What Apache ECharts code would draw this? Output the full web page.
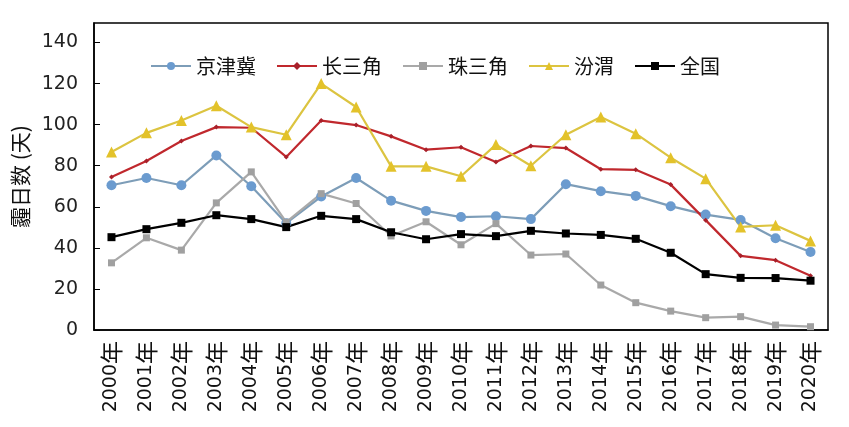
<!DOCTYPE html>
<html>
<head>
<meta charset="utf-8">
<script src="https://cdn.jsdelivr.net/npm/echarts@6/dist/echarts.min.js"></script>
<style>html,body{margin:0;padding:0;background:#fff;}#c{width:849px;height:427px;}</style>
</head>
<body>
<div id="c"></div>
<script>
const categories = ['2000年','2001年','2002年','2003年','2004年','2005年','2006年','2007年','2008年','2009年','2010年','2011年','2012年','2013年','2014年','2015年','2016年','2017年','2018年','2019年','2020年'];
const jingjinji = [70.5, 74, 70.5, 85, 70, 52, 65, 74, 63, 58, 55, 55.4, 54, 71, 67.6, 65.3, 60.3, 56.2, 53.6, 44.7, 38];
const changsanjiao = [74.5, 82.3, 92, 98.8, 98.5, 84.3, 102, 99.8, 94.3, 87.8, 89, 81.8, 89.6, 88.6, 78.3, 78, 70.8, 53.5, 36.1, 34, 26.4];
const zhusanjiao = [32.7, 44.9, 38.9, 61.9, 77, 52.5, 66.4, 61.6, 45.8, 52.7, 41.5, 51.8, 36.5, 37, 21.9, 13.3, 9.2, 6, 6.5, 2.4, 1.6];
const fenwei = [86.7, 96, 102, 109.2, 98.8, 95.1, 120, 108.6, 79.7, 79.7, 74.9, 90.3, 80, 95.1, 103.7, 95.6, 83.9, 73.7, 50.2, 51, 43.4];
const quanguo = [45.2, 49.1, 52.2, 55.9, 54, 50.1, 55.6, 54, 47.6, 44.2, 46.7, 45.7, 48.3, 47, 46.3, 44.4, 37.6, 27.2, 25.4, 25.3, 24];
const yAxisName = '霾日数 (天)';

const font = '"DejaVu Sans", "Noto Sans CJK SC", sans-serif';
const cjk = '"Noto Sans CJK SC", sans-serif';

const chart = echarts.init(document.getElementById('c'), null, {renderer: 'canvas'});
function mk(name, data, lineColor, markColor, symbol, size, width) {
  return {
    name: name, type: 'line', data: data, symbol: symbol, symbolSize: size,
    lineStyle: {color: lineColor, width: width},
    itemStyle: {color: markColor},
    emphasis: {disabled: true}, animation: false
  };
}
chart.setOption({
  backgroundColor: '#fff',
  animation: false,
  grid: {left: 94, right: 21, top: 23, bottom: 97, show: true, borderColor: '#000', borderWidth: 1.5, backgroundColor: 'transparent'},
  legend: {
    left: 145, top: 51, itemWidth: 40, itemHeight: 10, itemGap: 20,
    textStyle: {fontSize: 20, fontFamily: cjk, color: '#111'},
    data: ['京津冀','长三角','珠三角','汾渭','全国']
  },
  xAxis: {
    type: 'category', data: categories, boundaryGap: true,
    axisLine: {lineStyle: {color: '#000', width: 1.5}},
    axisTick: {inside: true, length: 6, lineStyle: {color: '#000'}},
    axisLabel: {
      rotate: 90, margin: 11, interval: 0, color: '#111',
      formatter: function (v) { return '{d|' + v.slice(0, -1) + '}{y|' + v.slice(-1) + '}'; },
      rich: {d: {fontSize: 19, fontFamily: font, color: '#111'}, y: {fontSize: 23, fontFamily: cjk, color: '#111'}}
    },
    splitLine: {show: false}
  },
  yAxis: {
    type: 'value', min: 0, max: 149.5, interval: 20,
    name: yAxisName, nameLocation: 'middle', nameGap: 60, nameRotate: 90,
    nameTextStyle: {fontSize: 21, fontFamily: cjk, color: '#111'},
    axisLine: {show: true, lineStyle: {color: '#000', width: 1.5}},
    axisTick: {show: true, inside: true, length: 6, lineStyle: {color: '#000'}},
    axisLabel: {margin: 16, fontSize: 19, fontFamily: font, color: '#222', showMaxLabel: false},
    splitLine: {show: false}
  },
  series: [
    mk('京津冀', jingjinji, '#7d9db8', '#6b9bcf', 'circle', 10, 2.2),
    mk('长三角', changsanjiao, '#c0282d', '#a8202a', 'diamond', 5, 2.2),
    mk('珠三角', zhusanjiao, '#a9a9a9', '#a0a0a0', 'rect', 7, 2.2),
    mk('汾渭', fenwei, '#dcc440', '#e3c22a', 'triangle', 11, 2.2),
    mk('全国', quanguo, '#000', '#000', 'rect', 8, 2.2)
  ]
});
</script>
</body>
</html>
